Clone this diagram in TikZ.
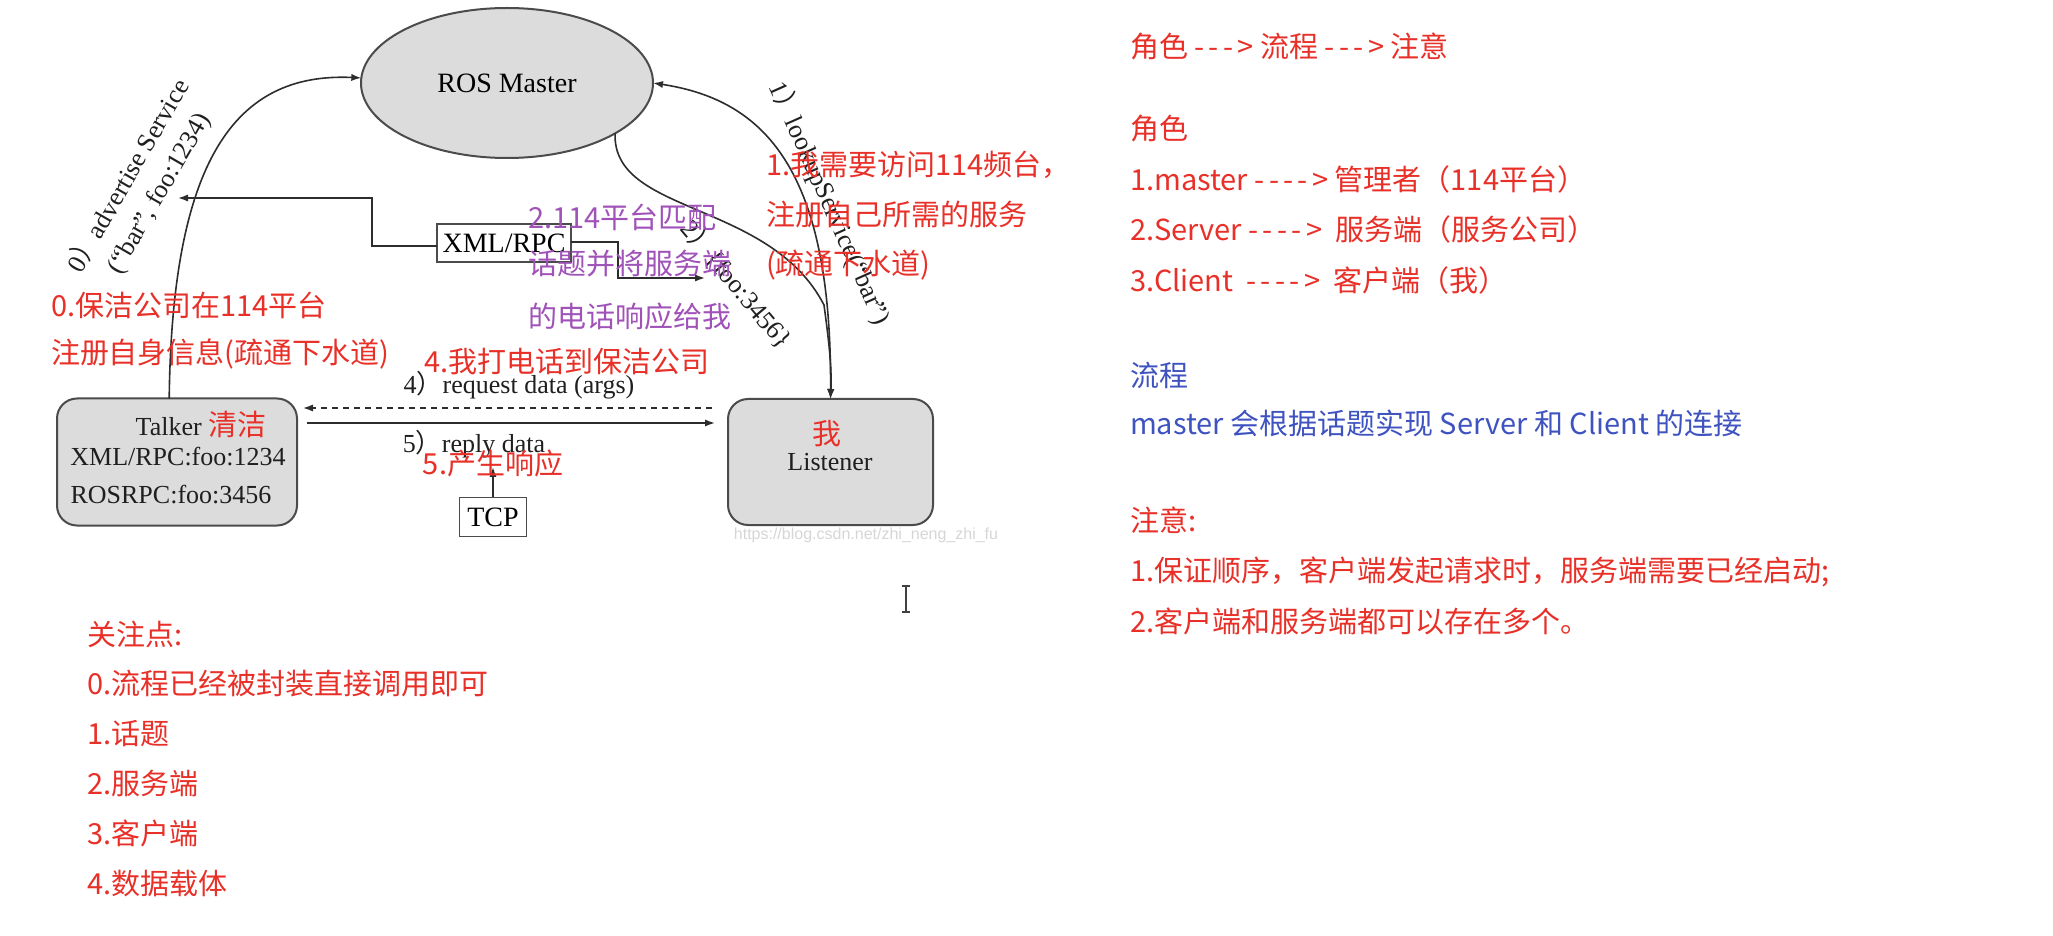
\documentclass[tikz,border=0pt]{standalone}
\usepackage{fontspec}
\setmainfont{Liberation Serif}
\newfontfamily\cjk{Noto Sans CJK SC}
\newfontfamily\cjkwide[LetterSpace=15]{Noto Sans CJK SC}
\newfontfamily\wmfont{Liberation Sans}
\usetikzlibrary{arrows.meta,shapes.geometric}

\definecolor{nred}{RGB}{232,48,40}
\definecolor{npurple}{RGB}{160,82,185}
\definecolor{nblue}{RGB}{62,82,192}
\definecolor{boxgray}{RGB}{220,220,220}
\definecolor{linegray}{RGB}{45,45,45}
\definecolor{edgegray}{RGB}{75,75,75}

\newcommand{\arr}[1]{{\cjkwide #1}}

\begin{document}
\begin{tikzpicture}[x=0.5pt,y=-0.5pt,
  every node/.style={inner sep=0pt,outer sep=0pt},
  diag/.style={font=\fontsize{13}{15}\selectfont, text=black!88},
  cn/.style={font=\cjk\fontsize{14.5}{17}\selectfont},
  note/.style={cn, anchor=west, text=nred},
  pnote/.style={cn, anchor=west, text=npurple},
  bnote/.style={cn, anchor=west, text=nblue},
  master/.style={ellipse, draw=edgegray, fill=boxgray, line width=1pt,
    minimum width=146pt, minimum height=75pt, font=\fontsize{14}{16}\selectfont},
  procbox/.style={rectangle, rounded corners=10pt, draw=edgegray, fill=boxgray, line width=1pt},
  smallbox/.style={rectangle, draw=edgegray, fill=white, line width=0.8pt, font=\fontsize{14}{16}\selectfont},
  conn/.style={draw=linegray, line width=0.8pt},
  tip/.style={-{Latex[length=5pt,width=3.6pt]}},
  rlabel/.style={diag}
]
\useasboundingbox (0,0) rectangle (2053,936);
\fill[white] (0,0) rectangle (2053,936);

% ---------------- diagram nodes ----------------
\node[master] (ros) at (507,83) {ROS Master};

\node[procbox, minimum width=120pt, minimum height=63.5pt] (talker) at (177,462) {};
\node[diag] (tk1) at (201,424) {Talker {\cjk\fontsize{14.5}{17}\selectfont\color{nred}清洁}};
\node[diag] (tk2) at (178,457) {XML/RPC:foo:1234};
\node[diag] (tk3) at (171,495) {ROSRPC:foo:3456};

\node[procbox, minimum width=102.5pt, minimum height=63pt] (listener) at (830.5,462) {};
\node[cn, text=nred] (wo) at (827,434) {我};
\node[diag] (lst) at (830,462) {Listener};

\node[smallbox, minimum width=67pt, minimum height=19pt] (xmlrpc) at (504,243) {XML/RPC};
\node[smallbox, minimum width=33.5pt, minimum height=19.5pt] (tcp) at (493,517) {TCP};

\coordinate (advtip) at (178,198);
\coordinate (bendL) at (372,198);
\coordinate (footip) at (705,278);
\coordinate (bendR) at (618,278);
\coordinate (merge) at (824,305);
\coordinate (rqs) at (712,408);
\coordinate (rqe) at (303,408);
\coordinate (rps) at (307,423);
\coordinate (rpe) at (715,423);
\coordinate (tcptip) at (493,467);

% ---------------- connectors ----------------
\draw[conn,tip] (talker.97) .. controls (172,160) and (235,72) .. (ros.178);
\draw[conn,{Latex[length=5pt,width=3.6pt]}-{Latex[length=5pt,width=3.6pt]}]
  (ros.east) .. controls (765,100) and (832,170) .. (listener.north);
\draw[conn,tip] (ros.-25) .. controls (612,215) and (770,200) .. (merge)
  .. controls (828,335) and (832,365) .. (listener.north);
\draw[conn,tip] ([yshift=-1.5pt]xmlrpc.west) -| (bendL) -- (advtip);
\draw[conn,tip] ([yshift=0.5pt]xmlrpc.east) -| (bendR) -- (footip);
\draw[conn,tip,dash pattern=on 3pt off 2.5pt] (rqs) -- (rqe);
\draw[conn,tip] (rps) -- (rpe);
\draw[conn,tip] (tcp.north) -- (tcptip);

% ---------------- diagram labels ----------------
\node[rlabel, rotate=60] (l0a) at (127,175) {0{\cjk ）}advertise Service};
\node[rlabel, rotate=60] (l0b) at (160,194) {(“bar”, foo:1234)};
\node[rlabel, rotate=-66] (l1) at (830,203) {1{\cjk ）}lookupService(“bar”)};
\node[rlabel, rotate=-50] (l2) at (737,284) {2{\cjk ）}\{foo:3456\}};
\node[diag] (l4) at (519,385) {4{\cjk ）}request data (args)};
\node[diag] (l5) at (474,444) {5{\cjk ）}reply data};

% ---------------- annotations on the diagram ----------------
\node[note] (a0a) at (51,305) {0.保洁公司在114平台};
\node[note] (a0b) at (51,354) {注册自身信息(疏通下水道)};
\node[note] (a4) at (424,362) {4.我打电话到保洁公司};
\node[note] (a1a) at (766,165) {1.我需要访问114频台，};
\node[note] (a1b) at (766,215) {注册自己所需的服务};
\node[note] (a1c) at (766,265) {(疏通下水道)};
\node[pnote] (a2a) at (528,217) {2.114平台匹配};
\node[pnote] (a2b) at (528,264) {话题并将服务端};
\node[pnote] (a2c) at (528,316) {的电话响应给我};
\node[cn, text=nred] (a5) at (493,463) {5.产生响应};

\node[font=\wmfont\fontsize{8}{9}\selectfont, text=black!16] (wm) at (866,535) {https://blog.csdn.net/zhi\_neng\_zhi\_fu};

% ---------------- right column ----------------
\node[note] (r0) at (1130,46) {角色 \arr{--->} 流程 \arr{--->} 注意};
\node[note] (r1) at (1130,129) {角色};
\node[note] (r2) at (1130,179) {1.master \arr{---->} 管理者（114平台）};
\node[note] (r3) at (1130,229) {2.Server \arr{---->}\ \ 服务端（服务公司）};
\node[note] (r4) at (1130,280) {3.Client\ \ \arr{---->}\ \ 客户端（我）};
\node[bnote] (r5) at (1130,375) {流程};
\node[bnote] (r6) at (1130,423) {master 会根据话题实现 Server 和 Client 的连接};
\node[note] (r7) at (1130,520) {注意:};
\node[note] (r8) at (1130,572) {1.保证顺序，客户端发起请求时，服务端需要已经启动;};
\node[note] (r9) at (1130,621) {2.客户端和服务端都可以存在多个。};

% ---------------- bottom-left notes ----------------
\node[note] (b0) at (87,634) {关注点:};
\node[note] (b1) at (87,684) {0.流程已经被封装直接调用即可};
\node[note] (b2) at (87,734) {1.话题};
\node[note] (b3) at (87,783) {2.服务端};
\node[note] (b4) at (87,833) {3.客户端};
\node[note] (b5) at (87,884) {4.数据载体};

% text cursor
\draw[black!75, line width=0.8pt] (902,586) -- (910,586) (906,586) -- (906,612) (902,612) -- (910,612);
\end{tikzpicture}
\end{document}
